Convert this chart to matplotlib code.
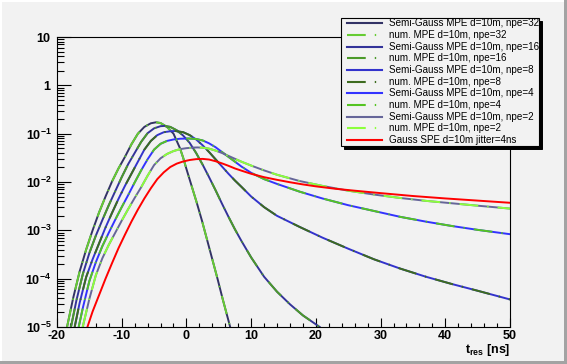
import numpy as np
import matplotlib
matplotlib.use("Agg")
import matplotlib.pyplot as plt
from matplotlib.patches import Rectangle
from matplotlib.lines import Line2D
from matplotlib.ticker import LogLocator, MultipleLocator, NullFormatter

# --- data (x in ns, values as log10 of the density) ---
x_npe32 = [-18.45, -17.5, -16.5, -15.5, -14.5, -13.5, -12.5, -11.5, -10.5, -9.5, -8.5,
           -7.5, -6.5, -5.5, -4.7, -4.0, -3.0, -2.0, -1.0, -0.5, 0.0, 0.8, 1.6, 2.4,
           3.2, 4.0, 4.8, 5.6, 6.4, 6.8]
log_npe32 = [-5.0, -4.4, -3.85, -3.4, -3.0, -2.63, -2.3, -1.99, -1.72, -1.48, -1.22,
             -1.0, -0.86, -0.785, -0.765, -0.78, -0.86, -1.0, -1.3, -1.5, -1.73, -2.08,
             -2.43, -2.8, -3.2, -3.6, -4.0, -4.42, -4.82, -5.02]

x_npe16 = [-17.84, -17, -16, -15, -14, -13, -12, -11, -10, -9, -8, -7, -6, -5, -4, -3.4,
           -2.5, -1.5, -0.5, 0.5, 1.5, 2.5, 3.5, 4.5, 5.5, 6.5, 7.5, 8.5, 10, 12, 14, 16,
           18, 20.6]
log_npe16 = [-5.0, -4.45, -3.9, -3.47, -3.11, -2.79, -2.48, -2.19, -1.9, -1.63, -1.4,
             -1.17, -0.99, -0.89, -0.845, -0.84, -0.86, -0.93, -1.04, -1.19, -1.4, -1.64,
             -1.9, -2.17, -2.45, -2.72, -2.98, -3.22, -3.56, -3.96, -4.27, -4.53, -4.76,
             -5.0]

x_npe8 = [-17.27, -16.5, -15.5, -14.5, -13.5, -12.5, -11.5, -10.5, -9.5, -8.5, -7.5,
          -6.5, -5.5, -4.5, -3.5, -2.5, -1.7, -0.5, 0.5, 1.5, 2.5, 3.5, 4.5, 5.5, 6.5,
          7.5, 8.5, 10, 12, 14, 17.5, 21, 25, 29, 33, 37, 41, 45, 50]
log_npe8 = [-5.0, -4.5, -3.97, -3.6, -3.27, -2.94, -2.64, -2.35, -2.08, -1.83, -1.58,
            -1.33, -1.15, -1.03, -0.97, -0.95, -0.945, -0.97, -1.03, -1.12, -1.24, -1.38,
            -1.53, -1.68, -1.83, -1.97, -2.1, -2.3, -2.52, -2.7, -2.93, -3.15, -3.38,
            -3.6, -3.79, -3.96, -4.11, -4.25, -4.43]

x_npe4 = [-16.65, -16, -15, -14, -13, -12, -11, -10, -9, -8, -7, -6, -5, -4, -3, -2, -1,
          0.3, 1.5, 2.5, 3.5, 4.5, 5.5, 6.5, 7.5, 8.5, 10, 12, 14, 17.5, 21, 25, 29, 33,
          37, 41, 45, 50]
log_npe4 = [-5.0, -4.6, -4.05, -3.66, -3.33, -3.05, -2.78, -2.52, -2.27, -2.01, -1.76,
            -1.53, -1.33, -1.21, -1.15, -1.12, -1.105, -1.1, -1.11, -1.14, -1.2, -1.28,
            -1.38, -1.48, -1.58, -1.68, -1.81, -1.94, -2.04, -2.2, -2.34, -2.48, -2.6,
            -2.72, -2.82, -2.91, -2.99, -3.08]

x_npe2 = [-16.03, -15, -14, -13, -12, -11, -10, -9, -8, -7, -6, -5, -4, -3, -2, -1, 0, 1,
          1.7, 2.5, 3.5, 4.5, 5.5, 6.5, 7.5, 8.5, 10, 12, 14, 17.5, 21, 25, 29, 33, 37,
          41, 45, 50]
log_npe2 = [-5.0, -4.42, -3.93, -3.58, -3.3, -3.05, -2.8, -2.56, -2.33, -2.11, -1.87,
            -1.65, -1.51, -1.42, -1.36, -1.32, -1.3, -1.288, -1.285, -1.29, -1.31, -1.35,
            -1.4, -1.46, -1.52, -1.58, -1.66, -1.76, -1.85, -1.98, -2.08, -2.18, -2.26,
            -2.33, -2.39, -2.44, -2.49, -2.55]

x_spe = [-15.3, -14.5, -13.5, -12.5, -11.5, -10.5, -9.5, -8.5, -7.5, -6.5, -5.5, -4.5,
         -3.5, -2.5, -1.5, -0.5, 0.5, 1.5, 2.5, 3.5, 4.5, 5.5, 6.5, 7.5, 8.5, 10, 12, 14,
         16, 18, 20, 23, 26, 30, 35, 40, 45, 50]
log_spe = [-5.0, -4.68, -4.34, -4.0, -3.68, -3.37, -3.09, -2.82, -2.57, -2.34, -2.13,
           -1.94, -1.8, -1.69, -1.62, -1.575, -1.545, -1.527, -1.522, -1.535, -1.57,
           -1.615, -1.665, -1.72, -1.765, -1.83, -1.9, -1.955, -2.005, -2.05, -2.09,
           -2.14, -2.18, -2.23, -2.29, -2.34, -2.385, -2.43]

NPE = [32, 16, 8, 4, 2]
X_MPE = [x_npe32, x_npe16, x_npe8, x_npe4, x_npe2]
LOG_MPE = [log_npe32, log_npe16, log_npe8, log_npe4, log_npe2]
SG_COLORS = ["#333366", "#333399", "#3333cc", "#3333ff", "#666699"]
NUM_COLORS = ["#66cc33", "#4c9a2a", "#3d6b1f", "#55c422", "#8cff3c"]
SPE_COLOR = "#ff0000"

XTICKS = [-20, -10, 0, 10, 20, 30, 40, 50]
XTICK_LABELS = ["-20", "-10", "0", "10", "20", "30", "40", "50"]
YTICKS = [1e-5, 1e-4, 1e-3, 1e-2, 1e-1, 1, 10]
YTICK_LABELS = [r"$\mathbf{10^{-5}}$", r"$\mathbf{10^{-4}}$", r"$\mathbf{10^{-3}}$",
                r"$\mathbf{10^{-2}}$", r"$\mathbf{10^{-1}}$", r"$\mathbf{1}$",
                r"$\mathbf{10}$"]

# --- style ---
plt.rcParams["font.family"] = "Liberation Sans"
plt.rcParams["mathtext.fontset"] = "custom"
plt.rcParams["mathtext.rm"] = "Liberation Sans"
plt.rcParams["mathtext.bf"] = "Liberation Sans:bold"
plt.rcParams["mathtext.it"] = "Liberation Sans:italic"
plt.rcParams["axes.unicode_minus"] = False
plt.rcParams["lines.scale_dashes"] = False

BG = "#f2f2f2"
W, H = 567, 364
LW = 1.4
NUM_DASH = (0, (13.5, 6.5, 1.0, 6.5))


def fx(px):
    return px / W


def fy(py):
    return 1 - py / H


fig = plt.figure(figsize=(W / 100, H / 100), dpi=100, facecolor=BG)

# canvas bevel
fig.add_artist(Rectangle((0, 0), 1, 1, transform=fig.transFigure, fc=BG, ec="none", zorder=-10))
fig.add_artist(Rectangle((0, fy(2)), 1, 2 / H, transform=fig.transFigure, fc="white", ec="none"))
fig.add_artist(Rectangle((0, 0), 2 / W, 1, transform=fig.transFigure, fc="white", ec="none"))
fig.add_artist(Rectangle((fx(W - 3.5), 0), 3.5 / W, 1, transform=fig.transFigure, fc="#a3a3a3", ec="none"))
fig.add_artist(Rectangle((0, 0), 1, 3 / H, transform=fig.transFigure, fc="#a3a3a3", ec="none"))

ax = fig.add_axes([fx(57), fy(327), fx(510) - fx(57), fy(37) - fy(327)])
ax.set_facecolor(BG)

for npe, xs, ls, c_sg, c_num in zip(NPE, X_MPE, LOG_MPE, SG_COLORS, NUM_COLORS):
    ys = np.power(10.0, ls)
    ax.plot(xs, ys, color=c_sg, lw=LW)
    ax.plot(xs, ys, color=c_num, lw=LW, ls=NUM_DASH)
ax.plot(x_spe, np.power(10.0, log_spe), color=SPE_COLOR, lw=LW)

ax.set_yscale("log")
ax.set_xlim(-20, 50)
ax.set_ylim(1e-5, 10)
ax.set_xticks(XTICKS)
ax.set_xticklabels(XTICK_LABELS, fontweight="bold", fontsize=9)
ax.xaxis.set_minor_locator(MultipleLocator(2))
ax.set_yticks(YTICKS)
ax.set_yticklabels(YTICK_LABELS, fontsize=9)
ax.yaxis.set_minor_locator(LogLocator(base=10, subs=np.arange(2, 10)))
ax.yaxis.set_minor_formatter(NullFormatter())

ax.tick_params(which="both", direction="in", top=False, right=False, width=0.8)
ax.tick_params(axis="x", which="major", length=6.3, pad=2.5)
ax.tick_params(axis="x", which="minor", length=3.1)
ax.tick_params(axis="y", which="major", length=9.8, pad=4)
ax.tick_params(axis="y", which="minor", length=4.9)
for sp in ax.spines.values():
    sp.set_linewidth(0.8)

fig.text(fx(510), fy(342), r"$\mathbf{t}_{\mathbf{res}}$ [ns]", ha="right", va="top",
         fontsize=9, fontweight="bold")

# --- legend box ---
L0, T0, R0, B0 = 341, 18, 539, 146
fig.add_artist(Rectangle((fx(L0 + 3), fy(B0 + 3)), fx(R0) - fx(L0), fy(T0) - fy(B0),
                         transform=fig.transFigure, fc="black", ec="black", lw=0.7, zorder=5))
fig.add_artist(Rectangle((fx(L0), fy(B0)), fx(R0) - fx(L0), fy(T0) - fy(B0),
                         transform=fig.transFigure, fc=BG, ec="black", lw=0.8, zorder=6))

entries = []
for npe, c_sg, c_num in zip(NPE, SG_COLORS, NUM_COLORS):
    entries.append((f"Semi-Gauss MPE d=10m, npe={npe}", c_sg, "-"))
    entries.append((f"num. MPE d=10m, npe={npe}", c_num, NUM_DASH))
entries.append(("Gauss SPE d=10m jitter=4ns", SPE_COLOR, "-"))

row0, drow = 23.3, 11.67
for i, (label, color, style) in enumerate(entries):
    yy = fy(row0 + i * drow)
    fig.add_artist(Line2D([fx(347), fx(382)], [yy, yy], transform=fig.transFigure,
                          color=color, lw=1.5, ls=style, zorder=7))
    fig.text(fx(389), yy, label, ha="left", va="center", fontsize=7.1, zorder=7)

fig.savefig("out.png", dpi=100, facecolor=BG)
